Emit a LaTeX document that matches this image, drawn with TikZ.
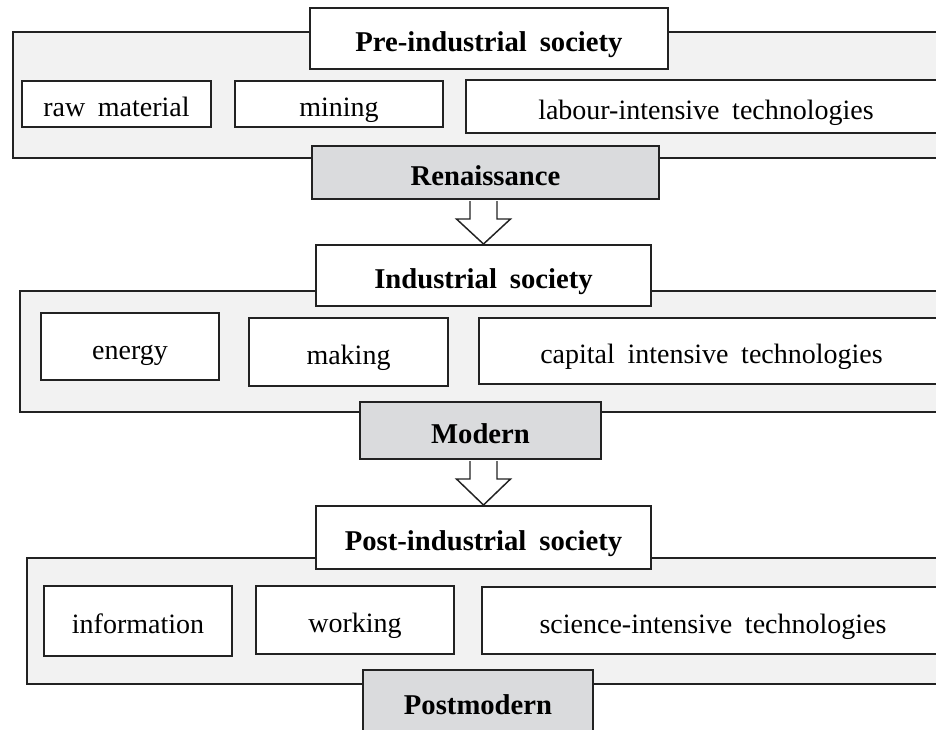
\documentclass[tikz,border=0pt]{standalone}
\usepackage{fontspec}
\setmainfont[WordSpace=1.8]{Liberation Serif}
\usetikzlibrary{calc}
\definecolor{framefill}{HTML}{F2F2F2}
\definecolor{erafill}{HTML}{DADBDD}
\definecolor{ink}{HTML}{222222}
\newcommand\hollowarrow[2]{%
  \draw[hollow] ($(#2.north |- #1.south)+(-13.5,1)$) -- ++(0,18) -- ++(-13.5,0) -- (#2.north)
    -- ($(#2.north |- #1.south)+(27,19)$) -- ++(-13.5,0) -- ++(0,-18);}
\begin{document}
\begin{tikzpicture}[x=0.75pt,y=-0.75pt,line width=1.5pt,
  corners/.style n args={4}{minimum width={(#3-#1)*0.75pt},minimum height={(#4-#2)*0.75pt},
    at={({(#1+#3)/2},{(#2+#4)/2})}},
  frame/.style={draw=ink,fill=framefill,inner sep=0pt},
  boxtext/.style={inner sep=0pt,text height=19pt,text depth=0pt},
  title/.style={draw=ink,fill=white,boxtext,font=\bfseries\fontsize{21.5}{24}\selectfont},
  item/.style={draw=ink,fill=white,boxtext,font=\fontsize{21}{24}\selectfont},
  era/.style={draw=ink,fill=erafill,boxtext,font=\bfseries\fontsize{21.5}{24}\selectfont},
  hollow/.style={draw=ink,fill=white,line width=1.1pt,line join=miter}]
\useasboundingbox (0,0) rectangle (936,729);
\clip (0,0) rectangle (936,729);
% Pre-industrial
\node[frame,corners={13}{32}{960}{158}] (f1) {};
\node[title,corners={310}{8}{668}{69}] (t1) {Pre-industrial society};
\node[item,corners={22}{81}{211}{127}] (a1) {raw material};
\node[item,corners={235}{81}{443}{127}] (b1) {mining};
\node[item,corners={466}{80}{946}{133}] (c1) {labour-intensive technologies};
\node[era,corners={312}{146}{659}{199}] (e1) {Renaissance};
% Industrial
\node[frame,corners={20}{291}{960}{412}] (f2) {};
\node[title,corners={316}{245}{651}{306}] (t2) {Industrial society};
\node[item,corners={41}{313}{219}{380}] (a2) {energy};
\node[item,corners={249}{318}{448}{386}] (b2) {making};
\node[item,corners={479}{318}{944}{384}] (c2) {capital intensive technologies};
\node[era,corners={360}{402}{601}{459}] (e2) {Modern};
% Post-industrial
\node[frame,corners={27}{558}{960}{684}] (f3) {};
\node[title,corners={316}{506}{651}{569}] (t3) {Post-industrial society};
\node[item,corners={44}{586}{232}{656}] (a3) {information};
\node[item,corners={256}{586}{454}{654}] (b3) {working};
\node[item,corners={482}{587}{944}{654}] (c3) {science-intensive technologies};
\node[era,corners={363}{670}{593}{733}] (e3) {Postmodern};
% arrows
\hollowarrow{e1}{t2}
\hollowarrow{e2}{t3}
\end{tikzpicture}
\end{document}
